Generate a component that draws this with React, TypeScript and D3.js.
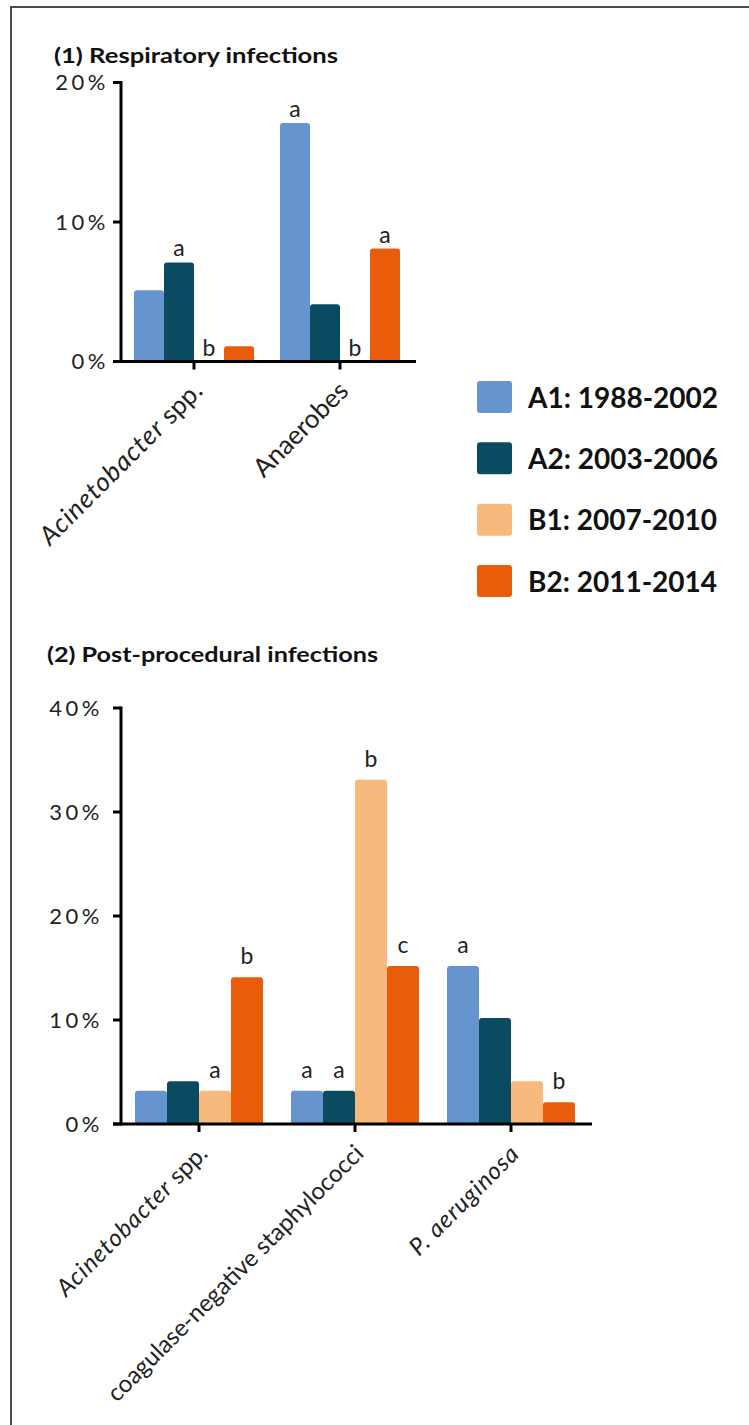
import React from "react";
import * as d3 from "d3";

// ---------- data ----------
const seriesNames = ["A1: 1988-2002", "A2: 2003-2006", "B1: 2007-2010", "B2: 2011-2014"];
const seriesColors = ["#6594CE", "#0B4B61", "#F8B97C", "#E95C0A"];

const respCategories = ["Acinetobacter spp.", "Anaerobes"];
const respA1 = [5.1, 17.1];
const respA2 = [7.1, 4.1];
const respB1 = [0, 0];
const respB2 = [1.1, 8.1];
const respLetters = [
  ["", "a"],
  ["a", ""],
  ["b", "b"],
  ["", "a"],
];
const respTicks = [0, 10, 20];

const postCategories = ["Acinetobacter spp.", "coagulase-negative staphylococci", "P. aeruginosa"];
const postA1 = [3.2, 3.2, 15.2];
const postA2 = [4.1, 3.2, 10.2];
const postB1 = [3.2, 33.1, 4.1];
const postB2 = [14.1, 15.2, 2.1];
const postLetters = [
  ["", "a", "a"],
  ["", "a", ""],
  ["a", "b", ""],
  ["b", "c", "b"],
];
const postTicks = [0, 10, 20, 30, 40];

const italicTerms = ["Acinetobacter", "P. aeruginosa"];

// ---------- helpers ----------
const FONT = "Lato, 'Open Sans', sans-serif";

function topRoundedBar(x: number, y: number, w: number, h: number, r: number) {
  if (h <= 0) return "";
  const rr = Math.min(r, h, w / 2);
  return `M${x},${y + h}V${y + rr}Q${x},${y} ${x + rr},${y}H${x + w - rr}Q${x + w},${y} ${x + w},${y + rr}V${y + h}Z`;
}

function splitItalic(label: string) {
  for (const t of italicTerms) {
    const i = label.indexOf(t);
    if (i >= 0) {
      const parts: { text: string; italic: boolean }[] = [];
      if (i > 0) parts.push({ text: label.slice(0, i), italic: false });
      parts.push({ text: t, italic: true });
      if (i + t.length < label.length) parts.push({ text: label.slice(i + t.length), italic: false });
      return parts;
    }
  }
  return [{ text: label, italic: false }];
}

type PanelProps = {
  title: string;
  titleX: number;
  titleY: number;
  titleW: number;
  categories: string[];
  values: number[][];
  letters: string[][];
  ticks: number[];
  yTop: number;
  yBottom: number;
  xLeft: number;
  xRight: number;
  barW: number;
  letterGap: number;
  tickLabelRight: number;
  catFont: number;
};

function Panel(p: PanelProps) {
  const yMax = p.ticks[p.ticks.length - 1];
  const y = d3.scaleLinear().domain([0, yMax]).range([p.yBottom, p.yTop]);
  const x0 = d3.scaleBand<string>().domain(p.categories).range([p.xLeft, p.xRight]).padding(0);
  const groupW = p.barW * seriesNames.length;
  const x1 = d3
    .scaleBand<string>()
    .domain(seriesNames)
    .range([(x0.bandwidth() - groupW) / 2, (x0.bandwidth() + groupW) / 2]);
  const axisY = y(0);

  return (
    <g>
      <text
        x={p.titleX}
        y={p.titleY}
        fontFamily={FONT}
        fontWeight={700}
        fontSize={21}
        fill="#111"
        textLength={p.titleW}
        lengthAdjust="spacingAndGlyphs"
      >
        {p.title}
      </text>
      {/* bars */}
      {p.values.map((vals, si) =>
        vals.map((v, ci) => {
          const bx = (x0(p.categories[ci]) as number) + (x1(seriesNames[si]) as number);
          return (
            <path
              key={`b${si}-${ci}`}
              d={topRoundedBar(bx, y(v), x1.bandwidth(), axisY - y(v), 3)}
              fill={seriesColors[si]}
            />
          );
        })
      )}
      {/* significance letters */}
      {p.letters.map((ls, si) =>
        ls.map((l, ci) => {
          if (!l) return null;
          const bx = (x0(p.categories[ci]) as number) + (x1(seriesNames[si]) as number) + x1.bandwidth() / 2;
          return (
            <text
              key={`l${si}-${ci}`}
              x={bx}
              y={y(p.values[si][ci]) - p.letterGap}
              textAnchor="middle"
              fontFamily={FONT}
              fontSize={23}
              fill="#222"
            >
              {l}
            </text>
          );
        })
      )}
      {/* y axis */}
      <line x1={p.xLeft} x2={p.xLeft} y1={y(yMax) - 1.5} y2={axisY + 1.5} stroke="#000" strokeWidth={3} />
      {p.ticks.map((t) => (
        <g key={`t${t}`}>
          <line x1={p.xLeft - 8} x2={p.xLeft} y1={y(t)} y2={y(t)} stroke="#000" strokeWidth={3} />
          <text
            x={p.tickLabelRight}
            y={y(t)}
            dy="0.36em"
            textAnchor="end"
            fontFamily={FONT}
            fontSize={22}
            letterSpacing={3.5}
            fill="#222"
          >
            {`${t}%`}
          </text>
        </g>
      ))}
      {/* x axis */}
      <line x1={p.xLeft - 8} x2={p.xRight + 3} y1={axisY} y2={axisY} stroke="#000" strokeWidth={3} />
      {p.categories.map((c) => {
        const cx = (x0(c) as number) + x0.bandwidth() / 2;
        return (
          <g key={`c${c}`}>
            <line x1={cx} x2={cx} y1={axisY} y2={axisY + 8} stroke="#000" strokeWidth={3} />
            <text
              transform={`translate(${cx + 10},${axisY + 31}) rotate(-45)`}
              textAnchor="end"
              fontFamily={FONT}
              fontSize={p.catFont}
              fill="#222"
            >
              {splitItalic(c).map((s, i) => (
                <tspan key={i} fontStyle={s.italic ? "italic" : "normal"} letterSpacing={s.italic ? 1 : 0}>
                  {s.text}
                </tspan>
              ))}
            </text>
          </g>
        );
      })}
    </g>
  );
}

export default function App() {
  const legendY = d3.scaleLinear().domain([0, 3]).range([397, 581]);
  return (
    <svg
      width={749}
      height={1425}
      style={{ position: "absolute", left: 0, top: 0, background: "#fff" }}
    >
      <rect x={0} y={0} width={749} height={1425} fill="#fff" />
      <rect x={11} y={7} width={900} height={1600} fill="none" stroke="#3a3a3a" strokeWidth={1.8} />
      <Panel
        title="(1) Respiratory infections"
        titleX={54}
        titleY={63}
        titleW={284}
        categories={respCategories}
        values={[respA1, respA2, respB1, respB2]}
        letters={respLetters}
        ticks={respTicks}
        yTop={82.5}
        yBottom={361.5}
        xLeft={121}
        xRight={413}
        barW={30}
        letterGap={6}
        tickLabelRight={109}
        catFont={26}
      />
      <Panel
        title="(2) Post-procedural infections"
        titleX={47}
        titleY={662}
        titleW={331}
        categories={postCategories}
        values={[postA1, postA2, postB1, postB2]}
        letters={postLetters}
        ticks={postTicks}
        yTop={708}
        yBottom={1124}
        xLeft={121}
        xRight={589}
        barW={32}
        letterGap={13}
        tickLabelRight={103}
        catFont={24}
      />
      {/* legend */}
      {seriesNames.map((s, i) => (
        <g key={s}>
          <rect x={477} y={legendY(i) - 16} width={35} height={32} rx={3} fill={seriesColors[i]} />
          <text x={528} y={legendY(i) + 10.5} fontFamily={FONT} fontWeight={700} fontSize={28} fill="#111">
            {s}
          </text>
        </g>
      ))}
    </svg>
  );
}
